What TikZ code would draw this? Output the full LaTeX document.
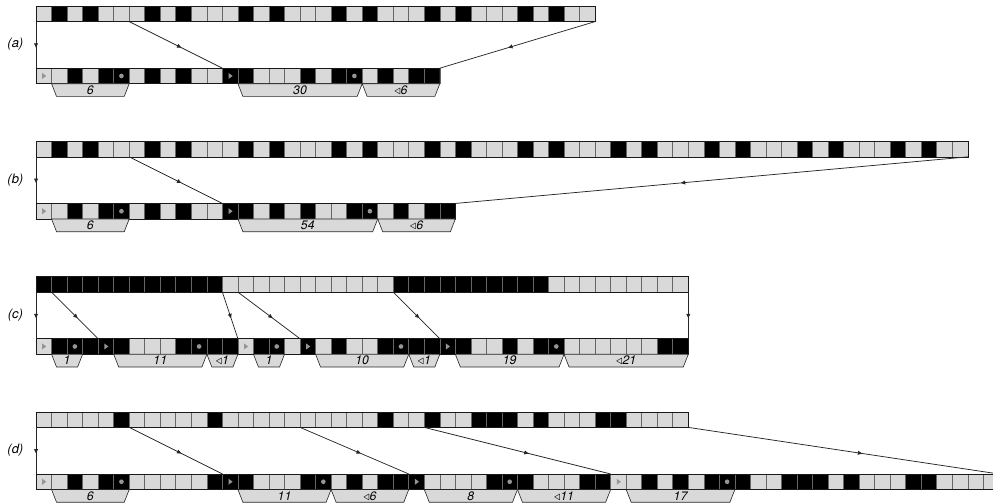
\documentclass[tikz,border=0pt]{standalone}
\usepackage{fontspec}
\setsansfont{TeX Gyre Heros}
\usetikzlibrary{calc,arrows.meta,decorations.markings}

\definecolor{cellgray}{HTML}{D9D9D9}
\definecolor{markgray}{HTML}{959595}

\tikzset{
  bit/.style={draw=black!60, line width=0.45pt, minimum width=0.4cm, minimum height=0.4cm, inner sep=0pt, outer sep=0pt},
  cellL/.style={bit, fill=cellgray},
  cellD/.style={bit, fill=black},
  flagmark/.style={path picture={\fill[markgray] ([shift={(-1.2pt,2.2pt)}]path picture bounding box.center) -- ++(0pt,-4.4pt) -- ++(3pt,2.2pt) -- cycle;}},
  cellT/.style={cellL, flagmark},
  cellU/.style={cellD, flagmark},
  cellP/.style={cellD, path picture={\fill[markgray] (path picture bounding box.center) circle[radius=1.7pt];}},
  rowedge/.style={draw=black!90, line width=0.5pt},
  runfill/.style={draw=black!85, fill=cellgray, line width=0.45pt},
  runlbl/.style={font=\sffamily\itshape\fontsize{9}{10}\selectfont, inner sep=0pt},
  tag/.style={font=\sffamily\itshape\fontsize{9.5}{11}\selectfont, inner sep=0pt},
  link/.style={draw=black!85, line width=0.55pt, decoration={markings, mark=at position 0.56 with {\arrow{Triangle[length=3.2pt,width=2.8pt]}}}, postaction={decorate}}
}

% one row of bits: name, top y, list of cell codes
\newcommand{\bitrow}[3]{%
  \foreach \c [count=\i from 0] in {#3} {
    \node[cell\c] (#1-\i) at (\i+0.5,#2-0.5) {};
    \xdef\lastbit{\i}
  }
  \draw[rowedge] (#1-0.north west) rectangle (#1-\lastbit.south east);
}

% run box under a bottom row: row, first cell, last cell, label
\newcommand{\runbox}[4]{%
  \draw[runfill] (#1-#2.south west) -- (#1-#3.south east) -- ++(-0.32,-0.82)
    -- ($(#1-#2.south west)+(0.32,-0.82)$) -- cycle;
  \node[runlbl] (#1-r#2) at ($(#1-#2.south west)!0.5!(#1-#3.south east)+(0,-0.41)$) {#4};
}

\begin{document}
\begin{tikzpicture}[x=0.4cm, y=0.4cm]
    \useasboundingbox (-2.32,0.39) rectangle (61.62,-31.94);
    \clip (-2.32,0.39) rectangle (61.62,-31.94);

    %
    % (a)
    \bitrow{aT}{0}{L,D,L,D,L,L,L,D,L,D,L,L,L,D,L,D,L,L,L,D,L,D,L,L,L,D,L,D,L,L,L,D,L,D,L,L}
    \bitrow{aB}{-4}{T,L,D,L,D,P,L,D,L,D,L,L,U,D,L,L,L,D,L,D,P,L,D,L,D,D}
    \runbox{aB}{1}{5}{6}
    \runbox{aB}{13}{20}{30}
    \runbox{aB}{21}{25}{$\triangleleft$6}
    \node[tag] (a-tag) at (-1.33,-2.47) {(a)};
    \draw[link] (aT-0.south west) -- (aB-0.north west);
    \draw[link] (aT-6.south west) -- (aB-12.north west);
    \draw[link] (aT-35.south east) -- (aB-25.north east);

    %
    % (b)
    \bitrow{bT}{-8.71}{L,D,L,D,L,L,L,D,L,D,L,L,L,D,L,D,L,L,L,D,L,D,L,L,L,D,L,D,L,L,L,D,L,D,L,L,L,D,L,D,L,L,L,D,L,D,L,L,L,D,L,D,L,L,L,D,L,D,L,L}
    \bitrow{bB}{-12.71}{T,L,D,L,D,P,L,D,L,D,L,L,U,D,L,D,L,D,L,L,D,P,L,D,L,D,D}
    \runbox{bB}{1}{5}{6}
    \runbox{bB}{13}{21}{54}
    \runbox{bB}{22}{26}{$\triangleleft$6}
    \node[tag] (b-tag) at (-1.33,-11.18) {(b)};
    \draw[link] (bT-0.south west) -- (bB-0.north west);
    \draw[link] (bT-6.south west) -- (bB-12.north west);
    \draw[link] (bT-59.south east) -- (bB-26.north east);

    %
    % (c)
    \bitrow{cT}{-17.42}{D,D,D,D,D,D,D,D,D,D,D,D,L,L,L,L,L,L,L,L,L,L,L,D,D,D,D,D,D,D,D,D,D,L,L,L,L,L,L,L,L,L}
    \bitrow{cB}{-21.42}{T,D,P,D,U,D,L,L,L,D,P,D,D,T,D,P,L,U,L,D,L,L,D,P,D,D,U,D,L,L,D,L,D,P,L,L,L,L,L,L,D,D}
    \runbox{cB}{1}{2}{1}
    \runbox{cB}{5}{10}{11}
    \runbox{cB}{11}{12}{$\triangleleft$1}
    \runbox{cB}{14}{15}{1}
    \runbox{cB}{18}{23}{10}
    \runbox{cB}{24}{25}{$\triangleleft$1}
    \runbox{cB}{27}{33}{19}
    \runbox{cB}{34}{41}{$\triangleleft$21}
    \node[tag] (c-tag) at (-1.33,-19.89) {(c)};
    \draw[link] (cT-0.south west) -- (cB-0.north west);
    \draw[link] (cT-1.south west) -- (cB-4.north west);
    \draw[link] (cT-12.south west) -- (cB-13.north west);
    \draw[link] (cT-13.south west) -- (cB-17.north west);
    \draw[link] (cT-23.south west) -- (cB-26.north west);
    \draw[link] (cT-41.south east) -- (cB-41.north east);

    %
    % (d)
    \bitrow{dT}{-26.13}{L,L,L,L,L,D,L,L,L,L,L,D,L,L,L,L,L,L,L,L,L,L,D,L,L,D,L,L,D,D,D,L,D,L,L,L,D,D,L,L,L,L}
    \bitrow{dB}{-30.13}{T,L,D,L,D,P,L,L,L,L,L,D,U,D,L,L,L,D,P,L,D,L,D,D,U,L,L,L,L,D,P,D,L,L,L,D,D,T,L,D,L,D,L,D,P,D,L,L,D,D,D,L,D,L,L,L,D,D,L,L,L,L}
    \runbox{dB}{1}{5}{6}
    \runbox{dB}{13}{18}{11}
    \runbox{dB}{19}{23}{$\triangleleft$6}
    \runbox{dB}{25}{30}{8}
    \runbox{dB}{31}{36}{$\triangleleft$11}
    \runbox{dB}{38}{44}{17}
    \node[tag] (d-tag) at (-1.33,-28.6) {(d)};
    \draw[link] (dT-0.south west) -- (dB-0.north west);
    \draw[link] (dT-6.south west) -- (dB-12.north west);
    \draw[link] (dT-17.south west) -- (dB-24.north west);
    \draw[link] (dT-25.south west) -- (dB-37.north west);
    \draw[link] (dT-41.south east) -- (dB-61.north east);

\end{tikzpicture}
\end{document}
